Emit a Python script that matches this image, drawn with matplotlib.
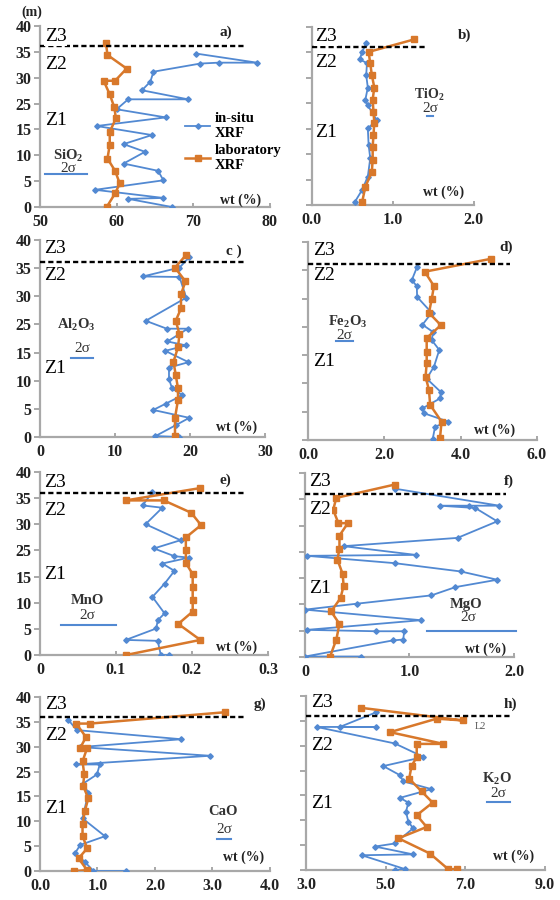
import matplotlib
matplotlib.use("Agg")
import matplotlib.pyplot as plt
import numpy as np
from matplotlib.lines import Line2D

plt.rcParams['font.family'] = ['Liberation Serif', 'DejaVu Serif']
plt.rcParams['mathtext.fontset'] = 'custom'
plt.rcParams['mathtext.rm'] = 'Liberation Serif:bold'

BLUE = '#5289d2'
ORANGE = '#d8782b'
SPINE = '#a8a8a8'
TXT = '#222222'

# depth axis (m), labels as printed on the original
depth_ticks = np.linspace(0, 40, 8)
depth_labels = ['0', '5', '10', '15', '25', '30', '35', '40']
zone_line = 35.5

# a) SiO2
sio2_situ_val = [70.4, 78.3, 73.3, 70.9, 64.8, 64.4, 63.3, 69.3, 61.5, 60.0, 66.4,
                 57.4, 64.6, 60.9, 63.7, 60.9, 65.4, 66.1, 57.2, 66.1, 61.5, 67.2]
sio2_situ_dep = [33.9, 31.9, 31.9, 31.7, 29.9, 27.7, 25.8, 23.8, 23.8, 21.6, 19.8,
                 17.9, 15.9, 13.9, 12.2, 9.6, 8.0, 5.9, 3.8, 2.0, 1.8, 0.0]
sio2_lab_val = [58.6, 58.8, 61.3, 59.8, 58.3, 59.1, 59.7, 59.9, 59.1, 59.1, 58.8, 59.8, 60.4, 59.8, 58.7]
sio2_lab_dep = [36.3, 33.6, 30.6, 27.9, 27.9, 24.9, 22.0, 19.6, 16.6, 13.7, 10.7, 8.0, 5.2, 3.0, 0.0]

# b) TiO2
tio2_situ_val = [0.67, 0.62, 0.59, 0.68, 0.67, 0.69, 0.66, 0.69, 0.80, 0.69, 0.70, 0.72, 0.69, 0.62, 0.53]
tio2_situ_dep = [36.3, 34.4, 32.7, 31.9, 29.2, 26.4, 23.7, 22.4, 19.1, 17.2, 13.5, 10.5, 6.4, 3.4, 0.7]
tio2_lab_val = [1.26, 0.70, 0.72, 0.74, 0.77, 0.75, 0.76, 0.77, 0.76, 0.75, 0.75, 0.74, 0.66, 0.62]
tio2_lab_dep = [37.2, 34.4, 31.8, 29.2, 26.4, 23.7, 20.9, 18.5, 15.7, 13.1, 10.2, 7.5, 4.1, 0.7]

# c) Al2O3
al2o3_situ_val = [19.9, 18.6, 13.7, 18.6, 19.5, 14.1, 16.9, 19.7, 17.0, 19.5, 16.7,
                  19.8, 17.2, 17.2, 17.6, 19.0, 16.8, 15.1, 19.9, 18.1, 15.4, 18.6]
al2o3_situ_dep = [36.5, 34.4, 32.6, 32.5, 28.3, 23.6, 22.0, 22.0, 19.4, 18.6, 17.5,
                  15.2, 14.1, 11.8, 9.9, 8.5, 6.8, 5.5, 3.9, 2.4, 0.2, 0.0]
al2o3_lab_val = [19.5, 18.0, 19.4, 18.8, 18.8, 18.1, 18.6, 18.4, 17.8, 18.1, 18.4, 18.4, 18.0, 18.0]
al2o3_lab_dep = [37.0, 34.4, 31.6, 29.0, 26.1, 23.6, 20.9, 18.2, 15.3, 12.6, 9.9, 7.5, 3.9, 0.2]

# d) Fe2O3
fe2o3_situ_val = [2.86, 2.72, 2.85, 2.86, 3.24, 3.00, 3.28, 3.24, 3.44, 3.30, 3.11,
                  3.48, 3.46, 3.00, 3.04, 3.68, 3.33, 3.27]
fe2o3_situ_dep = [35.0, 32.3, 31.1, 28.9, 25.7, 23.3, 21.8, 20.2, 18.2, 14.8, 12.4,
                  9.7, 8.4, 6.4, 5.4, 3.7, 2.7, 0.3]
fe2o3_lab_val = [4.79, 3.06, 3.30, 3.24, 3.17, 3.48, 3.11, 3.11, 3.11, 3.08, 3.17, 3.20, 3.50, 3.46]
fe2o3_lab_dep = [36.6, 34.0, 31.1, 28.4, 25.7, 23.2, 20.6, 17.8, 15.5, 12.8, 10.1, 7.1, 3.7, 0.5]

# e) MnO
mno_situ_val = [0.148, 0.135, 0.161, 0.139, 0.185, 0.150, 0.177, 0.196, 0.161, 0.177,
                0.164, 0.148, 0.164, 0.155, 0.153, 0.113, 0.155, 0.159, 0.170]
mno_situ_dep = [35.6, 32.7, 32.2, 28.6, 25.1, 23.3, 21.6, 21.3, 20.0, 18.4,
                15.6, 12.7, 9.1, 7.6, 5.8, 3.3, 3.1, 0.0, 0.0]
mno_lab_val = [0.211, 0.113, 0.163, 0.199, 0.212, 0.192, 0.192, 0.192, 0.201, 0.201,
               0.201, 0.201, 0.182, 0.211, 0.113]
mno_lab_dep = [36.5, 33.8, 33.8, 31.1, 28.4, 25.7, 22.9, 20.1, 17.7, 14.9, 12.1, 9.5, 6.8, 3.3, 0.0]

# f) MgO
mgo_situ_val = [0.86, 1.86, 1.57, 1.29, 1.63, 1.84, 1.46, 0.37, 1.06, 0.02, 0.86, 1.49, 1.84,
                1.44, 1.21, 0.50, 0.00, 1.11, 0.02, 0.68, 0.95, 0.94, 0.84, 0.00, 0.54]
mgo_situ_dep = [36.6, 32.9, 32.9, 32.9, 32.4, 29.5, 25.9, 24.1, 22.2, 22.0, 20.4, 18.6, 16.8,
                15.2, 13.4, 11.6, 10.3, 8.0, 5.9, 5.6, 5.6, 3.8, 3.6, 0.1, 0.1]
mgo_lab_val = [0.86, 0.30, 0.27, 0.32, 0.41, 0.33, 0.33, 0.31, 0.36, 0.37, 0.34, 0.25, 0.33, 0.30, 0.24]
mgo_lab_dep = [37.5, 34.6, 32.0, 29.1, 29.1, 26.4, 23.5, 21.2, 18.1, 15.5, 12.8, 9.9, 7.2, 3.8, 0.1]

# g) CaO
cao_situ_val = [0.49, 0.64, 2.46, 0.70, 2.96, 0.63, 1.04, 0.99, 0.75, 0.84, 0.74, 1.13,
                0.70, 0.61, 0.78, 0.93, 1.50]
cao_situ_dep = [34.8, 32.4, 30.3, 28.5, 26.5, 24.5, 24.5, 22.2, 20.1, 18.0, 12.1, 8.0,
                6.0, 4.1, 2.1, 0.0, 0.0]
cao_lab_val = [3.21, 0.87, 0.63, 0.80, 0.70, 0.82, 0.74, 0.77, 0.75, 0.84, 0.78, 0.74,
               0.74, 0.82, 0.67, 0.82, 0.59]
cao_lab_dep = [36.5, 33.9, 33.9, 30.8, 28.3, 28.3, 25.2, 22.2, 19.6, 16.7, 13.8, 10.9,
               8.1, 5.2, 2.9, 0.2, 0.0]

# h) K2O
k2o_situ_val = [4.77, 3.85, 4.77, 3.27, 5.23, 5.95, 4.94, 5.36, 5.44, 6.15, 5.36, 5.57,
                5.51, 5.57, 5.69, 5.23, 4.73, 5.69, 4.40, 5.49, 5.23]
k2o_situ_dep = [36.3, 32.9, 32.9, 32.9, 29.1, 26.0, 23.9, 21.8, 20.4, 18.6, 16.6, 15.5,
                13.4, 11.1, 9.6, 6.1, 5.4, 3.6, 3.4, 0.2, 0.0]
k2o_lab_val = [4.38, 6.93, 6.28, 5.11, 6.45, 5.78, 5.78, 5.65, 5.59, 5.90, 6.18, 5.78,
               6.03, 5.32, 6.11, 6.57, 6.78]
k2o_lab_dep = [37.3, 34.4, 34.8, 31.7, 29.0, 29.0, 26.0, 23.9, 21.0, 18.1, 15.5, 12.6,
               9.9, 7.3, 3.8, 0.2, 0.2]

# 2 sigma bars (value range, depth)
sig_a = ([50.6, 56.1], 7.4)
sig_b = ([1.42, 1.50], 20.0)
sig_c = ([4.2, 7.1], 16.0)
sig_d = ([0.74, 1.18], 20.0)
sig_e = ([0.028, 0.100], 6.5)
sig_f = ([1.17, 2.02], 5.6)
sig_g = ([3.07, 3.33], 7.3)
sig_h = ([7.54, 8.12], 15.7)

panels = [
    dict(rect=[0.0714, 0.770, 0.4107, 0.2011], situ=(sio2_situ_val, sio2_situ_dep),
         lab=(sio2_lab_val, sio2_lab_dep), xlim=(50, 80), xt=[50, 60, 70, 80],
         xl=['50', '60', '70', '80'], letter='a)', ox=r'SiO$_2$', sig=sig_a, dash=76.7,
         lpos=(74.3, 38.6), opos=(53.7, 11.4), spos=(53.7, 8.4), wpos=(76.1, 1.5),
         z=(37.6, 31.4, 19.2), ylab=True),
    dict(rect=[0.557, 0.7722, 0.2893, 0.1978], situ=(tio2_situ_val, tio2_situ_dep),
         lab=(tio2_lab_val, tio2_lab_dep), xlim=(0, 2), xt=[0, 1, 2],
         xl=['0.0', '1.0', '2.0'], letter='b)', ox=r'TiO$_2$', sig=sig_b, dash=1.4,
         lpos=(1.89, 38.1), opos=(1.45, 24.8), spos=(1.46, 21.6), wpos=(1.62, 2.8),
         z=(37.8, 32.1, 16.4), ylab=False),
    dict(rect=[0.0714, 0.5144, 0.4018, 0.2189], situ=(al2o3_situ_val, al2o3_situ_dep),
         lab=(al2o3_lab_val, al2o3_lab_dep), xlim=(0, 30), xt=[0, 10, 20, 30],
         xl=['0', '10', '20', '30'], letter='c )', ox=r'Al$_2$O$_3$', sig=sig_c, dash=27.2,
         lpos=(25.8, 37.8), opos=(4.9, 22.8), spos=(5.6, 18.0), wpos=(26.2, 2.0),
         z=(38.2, 32.7, 14.0), ylab=True),
    dict(rect=[0.550, 0.5111, 0.4089, 0.220], situ=(fe2o3_situ_val, fe2o3_situ_dep),
         lab=(fe2o3_lab_val, fe2o3_lab_dep), xlim=(0, 6), xt=[0, 2, 4, 6],
         xl=['0.0', '2.0', '4.0', '6.0'], letter='d)', ox=r'Fe$_2$O$_3$', sig=sig_d, dash=5.3,
         lpos=(5.2, 38.9), opos=(1.05, 23.9), spos=(0.96, 21.1), wpos=(4.9, 2.0),
         z=(38.3, 33.3, 15.8), ylab=False),
    dict(rect=[0.0714, 0.2722, 0.407, 0.2033], situ=(mno_situ_val, mno_situ_dep),
         lab=(mno_lab_val, mno_lab_dep), xlim=(0, 0.3), xt=[0, 0.1, 0.2, 0.3],
         xl=['0', '0.1', '0.2', '0.3'], letter='e)', ox='MnO', sig=sig_e, dash=0.268,
         lpos=(0.244, 38.2), opos=(0.062, 12.0), spos=(0.062, 8.6), wpos=(0.259, 1.8),
         z=(37.8, 31.6, 17.5), ylab=True),
    dict(rect=[0.5446, 0.270, 0.3732, 0.2044], situ=(mgo_situ_val, mgo_situ_dep),
         lab=(mgo_lab_val, mgo_lab_dep), xlim=(0, 2), xt=[0, 1, 2],
         xl=['0', '1.0', '2.0'], letter='f)', ox='MgO', sig=sig_f, dash=1.92,
         lpos=(1.95, 38.2), opos=(1.54, 11.4), spos=(1.56, 8.5), wpos=(1.73, 1.7),
         z=(38.2, 32.0, 15.0), ylab=False),
    dict(rect=[0.0714, 0.0322, 0.4107, 0.1933], situ=(cao_situ_val, cao_situ_dep),
         lab=(cao_lab_val, cao_lab_dep), xlim=(0, 4), xt=[0, 1, 2, 3, 4],
         xl=['0.0', '1.0', '2.0', '3.0', '4.0'], letter='g)', ox='CaO', sig=sig_g, dash=3.56,
         lpos=(3.83, 38.4), opos=(3.19, 13.6), spos=(3.2, 9.5), wpos=(3.54, 3.1),
         z=(38.2, 31.2, 14.3), ylab=True),
    dict(rect=[0.5464, 0.0333, 0.4268, 0.1933], situ=(k2o_situ_val, k2o_situ_dep),
         lab=(k2o_lab_val, k2o_lab_dep), xlim=(3, 9), xt=[3, 5, 7, 9],
         xl=['3.0', '5.0', '7.0', '9.0'], letter='h)', ox=r'K$_2$O', sig=sig_h, dash=8.12,
         lpos=(8.12, 38.2), opos=(7.79, 21.0), spos=(7.83, 17.7), wpos=(8.2, 3.1),
         z=(38.6, 28.7, 15.3), ylab=False),
]

fig = plt.figure(figsize=(5.6, 9.0), dpi=100)

for p in panels:
    ax = fig.add_axes(p['rect'])
    x0, x1 = p['xlim']
    ax.plot(p['situ'][0], p['situ'][1], '-D', color=BLUE, lw=1.3, ms=2.8, zorder=3)
    ax.plot(p['lab'][0], p['lab'][1], '-s', color=ORANGE, lw=1.8, ms=4.6, zorder=4)
    ax.plot([x0, p['dash']], [zone_line, zone_line], color='k', lw=1.7,
            ls=(0, (2.2, 1.3)), zorder=6)
    ax.plot(p['sig'][0], [p['sig'][1]] * 2, color=BLUE, lw=1.5, clip_on=False)

    ax.set_xlim(x0, x1)
    ax.set_ylim(0, 40)
    ax.set_xticks(p['xt'])
    ax.set_xticklabels(p['xl'])
    ax.set_yticks(depth_ticks)
    if p['ylab']:
        ax.set_yticklabels(depth_labels)
    else:
        ax.set_yticklabels([])
    for s in ['top', 'right']:
        ax.spines[s].set_visible(False)
    for s in ['left', 'bottom']:
        ax.spines[s].set_color(SPINE)
        ax.spines[s].set_linewidth(1.6)
    ax.tick_params(axis='y', direction='out', length=4, width=1.4, color=SPINE,
                   labelsize=11.5, labelcolor=TXT, pad=2)
    ax.tick_params(axis='x', direction='in', length=3, width=1.4, color=SPINE,
                   labelsize=11.5, labelcolor=TXT, pad=5)
    for lab in ax.get_xticklabels() + ax.get_yticklabels():
        lab.set_fontweight('bold')

    ax.text(*p['lpos'], p['letter'], fontsize=11, fontweight='bold', color=TXT,
            ha='center', va='center')
    ax.text(*p['opos'], p['ox'], fontsize=10.5 if p['letter'] != 'b)' else 10,
            fontweight='bold', color='#333333', ha='center', va='center')
    ax.text(*p['spos'], '2σ', fontsize=11, color='#333333', ha='center', va='center')
    ax.text(*p['wpos'], 'wt (%)', fontsize=10, fontweight='bold', color=TXT,
            ha='center', va='center')
    for name, d in zip(['Z3', 'Z2', 'Z1'], p['z']):
        ax.text(0.02, d / 40, name, transform=ax.transAxes, fontsize=14, color='k',
                ha='left', va='center', zorder=7,
                bbox=dict(facecolor='white', edgecolor='none', pad=0.5))

    if p['letter'] == 'a)':
        ax.text(-0.035, 1.075, '(m)', transform=ax.transAxes, fontsize=10,
                fontweight='bold', color=TXT, ha='center', va='center')
        handles = [Line2D([], [], color=BLUE, marker='D', ms=2.8, lw=1.3),
                   Line2D([], [], color=ORANGE, marker='s', ms=4.6, lw=1.8)]
        ax.legend(handles, ['in-situ\nXRF', 'laboratory\nXRF'], loc='upper left',
                  bbox_to_anchor=(0.6, 0.565), frameon=False, handlelength=1.7,
                  handletextpad=0.3, labelspacing=0.25, borderpad=0,
                  prop={'weight': 'bold', 'size': 10.5})
    if p['letter'] == 'h)':
        ax.text(7.37, 32.9, 'L2', fontsize=7.5, color='#555555', ha='center', va='center')

fig.savefig('out.png', dpi=100)
